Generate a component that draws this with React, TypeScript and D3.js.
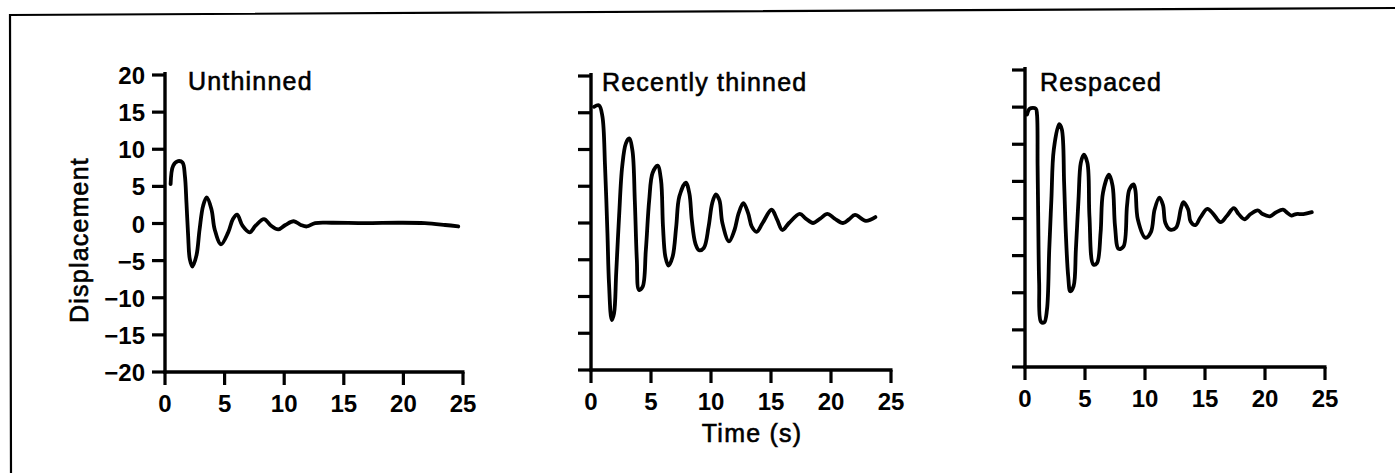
import React from "react";
import * as d3 from "d3";

// ---- Data ----
const panelTitles = ["Unthinned", "Recently thinned", "Respaced"];
const xTicks = [0, 5, 10, 15, 20, 25];
const yTicks = [-20, -15, -10, -5, 0, 5, 10, 15, 20];
const yTickLabels = ["\u221220", "\u221215", "\u221210", "\u22125", "0", "5", "10", "15", "20"];
const yAxisTitle = "Displacement";
const xAxisTitle = "Time (s)";

const unthinnedT = [0.47, 0.69, 1.1, 1.47, 1.67, 1.8, 1.94, 2.08, 2.3, 2.64, 2.9, 3.2, 3.5, 3.9, 4.17, 4.7, 5.3, 5.7, 6.05, 6.5, 7.1, 7.6, 8.3, 8.9, 9.5, 10.1, 10.8, 11.4, 11.9, 12.6, 14, 16.8, 19.6, 21.8, 23.5, 24.6];
const unthinnedV = [5.3, 7.8, 8.4, 8.2, 6.4, 2.8, -1.6, -4.8, -5.8, -4.3, -0.8, 2.4, 3.5, 1.9, -0.8, -2.8, -1.2, 0.6, 1.2, -0.3, -1.2, -0.3, 0.6, -0.3, -0.8, -0.2, 0.3, -0.2, -0.4, 0.05, 0.1, 0.05, 0.1, 0.05, -0.2, -0.4];

const thinnedT = [0.25, 0.67, 0.95, 1.17, 1.37, 1.5, 1.73, 1.92, 2.1, 2.34, 2.6, 2.9, 3.18, 3.45, 3.65, 3.82, 4.0, 4.3, 4.57, 4.85, 5.13, 5.55, 5.83, 6.0, 6.2, 6.46, 6.8, 7.1, 7.36, 7.9, 8.2, 8.4, 8.7, 9.0, 9.4, 9.8, 10.1, 10.4, 10.7, 10.95, 11.5, 11.96, 12.3, 12.7, 13.1, 13.4, 13.8, 14.3, 15.05, 15.5, 15.95, 16.5, 17.4, 17.9, 18.5, 19.1, 19.7, 20.3, 21.0, 21.5, 22.0, 22.9, 23.7];
const thinnedV = [15.8, 16.0, 14.5, 7.7, -1.4, -8.2, -13.2, -12.3, -6.8, 0.9, 7.7, 10.8, 11.5, 9.9, 3.1, -5.0, -9.1, -8.7, -3.7, 3.1, 6.8, 7.8, 5.9, -0.5, -4.6, -5.8, -4.6, -0.5, 3.6, 5.5, 4.0, 0.4, -2.8, -3.7, -3.4, -0.5, 2.7, 3.9, 3.1, 0.0, -2.5, -0.95, 1.3, 2.7, 1.3, -0.5, -1.2, 0.0, 1.8, 0.5, -0.95, 0.0, 1.25, 0.6, 0.0, 0.6, 1.25, 0.6, 0.0, 0.5, 1.1, 0.3, 0.8];

const respacedT = [0.17, 0.4, 0.9, 1.0, 1.05, 1.1, 1.18, 1.33, 1.6, 1.83, 2.02, 2.2, 2.4, 2.85, 3.07, 3.26, 3.4, 3.6, 3.77, 4.05, 4.24, 4.46, 4.65, 4.9, 5.2, 5.37, 5.7, 6.0, 6.3, 6.5, 7.0, 7.3, 7.5, 7.8, 8.2, 8.5, 8.7, 9.05, 9.2, 9.4, 10.05, 10.5, 10.8, 11.2, 11.5, 11.7, 12.1, 12.6, 13.0, 13.2, 13.6, 13.8, 14.2, 14.6, 15.2, 15.7, 16.3, 16.8, 17.4, 17.8, 18.3, 18.8, 19.4, 19.8, 20.4, 20.9, 21.5, 21.9, 22.2, 22.6, 23.2, 23.9];
const respacedV = [14.0, 14.8, 14.8, 14.0, 7.1, 0.3, -8.7, -13.9, -14.0, -12.3, -4.2, 2.6, 9.3, 12.7, 12.0, 4.8, -1.9, -7.8, -9.8, -9.1, -4.2, 2.6, 7.5, 8.6, 7.5, 0.3, -6.2, -6.0, -1.9, 3.5, 5.9, 4.4, -1.0, -4.1, -3.8, 1.7, 3.9, 4.6, 3.8, -0.1, -2.6, -1.8, 1.2, 2.8, 1.8, -0.6, -1.5, -1.2, 1.4, 2.2, 1.2, -0.4, -0.9, 0.1, 1.3, 0.6, -0.5, 0.3, 1.4, 0.6, -0.1, 0.6, 1.1, 0.6, 0.3, 0.8, 1.2, 0.7, 0.4, 0.6, 0.6, 0.85];

const seriesT = [unthinnedT, thinnedT, respacedT];
const seriesV = [unthinnedV, thinnedV, respacedV];

// ---- Layout ----
const W = 1395;
const H = 473;
const panels = [
  { x0: 165, x1: 463, yTop: 75, yBot: 372, titleX: 188, titleY: 90, showLabels: true },
  { x0: 591, x1: 891, yTop: 76, yBot: 370, titleX: 602, titleY: 91, showLabels: false },
  { x0: 1025, x1: 1325, yTop: 70, yBot: 367, titleX: 1040, titleY: 91, showLabels: false },
];
const FONT = "'Liberation Sans', Arial, Helvetica, sans-serif";
const TICK = 13;

function Panel({ idx }: { idx: number }) {
  const p = panels[idx];
  const x = d3.scaleLinear().domain([0, 25]).range([p.x0, p.x1]);
  const y = d3.scaleLinear().domain([-20, 20]).range([p.yBot, p.yTop]);
  const t = seriesT[idx];
  const v = seriesV[idx];
  const pts: [number, number][] = t.map((ti, i) => [ti, v[i]]);
  const line = d3
    .line<[number, number]>()
    .x((d) => x(d[0]))
    .y((d) => y(d[1]))
    .curve(d3.curveCatmullRom.alpha(0.5));
  return (
    <g>
      {/* y axis */}
      <line x1={x(0)} x2={x(0)} y1={y(-20) + 1.5} y2={y(20) - 3} stroke="#000" strokeWidth={3.4} />
      {yTicks.map((tv) => (
        <line key={"yt" + tv} x1={x(0) - TICK} x2={x(0)} y1={y(tv)} y2={y(tv)} stroke="#000" strokeWidth={3.2} />
      ))}
      {/* x axis */}
      <line x1={x(0) - 1.5} x2={x(25) + 1.5} y1={y(-20)} y2={y(-20)} stroke="#000" strokeWidth={3.6} />
      {xTicks.map((tv) => (
        <line key={"xt" + tv} x1={x(tv)} x2={x(tv)} y1={y(-20)} y2={y(-20) + TICK} stroke="#000" strokeWidth={3.2} />
      ))}
      {xTicks.map((tv) => (
        <text
          key={"xl" + tv}
          x={x(tv)}
          y={y(-20) + 40}
          textAnchor="middle"
          fontFamily={FONT}
          fontWeight="bold"
          fontSize={24}
        >
          {String(tv)}
        </text>
      ))}
      {p.showLabels &&
        yTicks.map((tv, i) => (
          <text
            key={"yl" + tv}
            x={x(0) - 20}
            y={y(tv) + 9}
            textAnchor="end"
            fontFamily={FONT}
            fontWeight="bold"
            fontSize={24}
          >
            {yTickLabels[i]}
          </text>
        ))}
      <text
        x={p.titleX}
        y={p.titleY}
        fontFamily={FONT}
        fontSize={25}
        letterSpacing={1.2}
        stroke="#000"
        strokeWidth={0.6}
      >
        {panelTitles[idx]}
      </text>
      <path d={line(pts) || ""} fill="none" stroke="#000" strokeWidth={3.8} strokeLinejoin="round" strokeLinecap="round" />
    </g>
  );
}

export default function App() {
  return (
    <svg
      width={W}
      height={H}
      viewBox={`0 0 ${W} ${H}`}
      style={{ position: "absolute", left: 0, top: 0, background: "#fff" }}
    >
      <rect x={0} y={0} width={W} height={H} fill="#fff" />
      {/* outer frame (slightly skewed scan) */}
      <path d={`M 11 ${H} L 10 15 L ${W} 8`} fill="none" stroke="#000" strokeWidth={2.2} />
      {panels.map((_, i) => (
        <Panel key={i} idx={i} />
      ))}
      <text
        transform="translate(88,240) rotate(-90)"
        textAnchor="middle"
        fontFamily={FONT}
        fontSize={25}
        letterSpacing={1.2}
        stroke="#000"
        strokeWidth={0.6}
      >
        {yAxisTitle}
      </text>
      <text
        x={752}
        y={442}
        textAnchor="middle"
        fontFamily={FONT}
        fontSize={25}
        letterSpacing={1.2}
        stroke="#000"
        strokeWidth={0.6}
      >
        {xAxisTitle}
      </text>
    </svg>
  );
}
